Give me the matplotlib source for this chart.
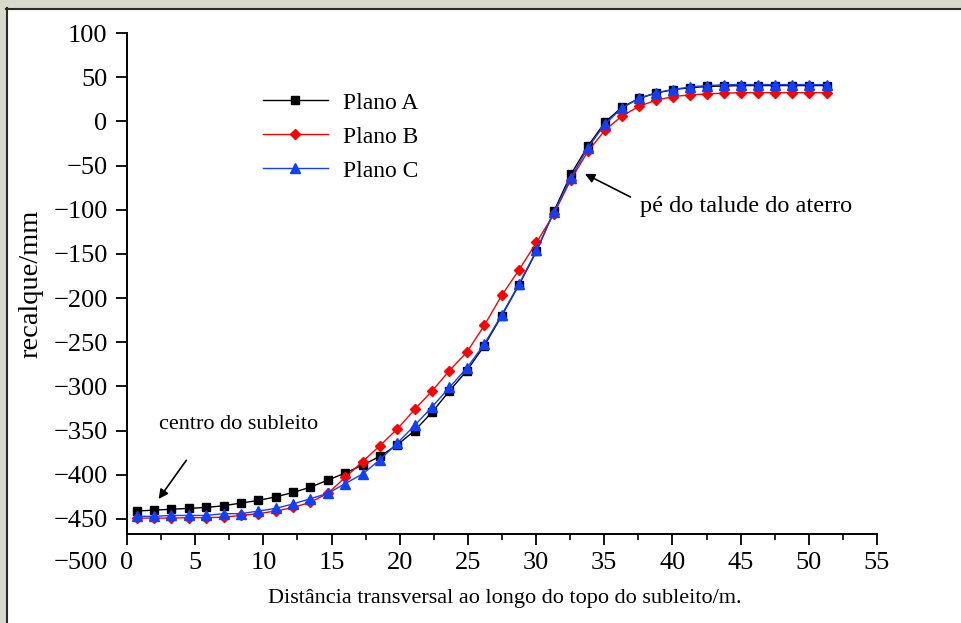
import matplotlib
matplotlib.use("Agg")
import matplotlib.pyplot as plt
from matplotlib.patches import Rectangle
from matplotlib.lines import Line2D

# ---- data ----
x_pos = [0.7, 1.98, 3.25, 4.53, 5.8, 7.08, 8.35, 9.63, 10.9, 12.18, 13.45, 14.73,
         16.0, 17.28, 18.55, 19.83, 21.1, 22.38, 23.65, 24.93, 26.2, 27.48, 28.75,
         30.03, 31.3, 32.55, 33.8, 35.05, 36.3, 37.55, 38.8, 40.05, 41.3, 42.55,
         43.8, 45.05, 46.3, 47.55, 48.8, 50.05, 51.3]
plano_a = [-441, -440, -439, -438, -437, -435, -432, -429, -425, -420, -414, -406,
           -398, -389, -379, -366, -350, -329, -305, -282, -254, -220, -185, -147,
           -102, -60, -28, -1, 16, 26, 32, 36, 38, 39.5, 40, 40.5, 40.5, 40.5,
           40.5, 40.5, 40.5]
plano_b = [-449, -449, -449, -448.5, -448.5, -448, -446, -444, -441, -437, -431, -421,
           -403, -385, -367, -348, -326, -305, -282, -261, -231, -197, -168, -137,
           -105, -66, -34, -10, 6, 17, 24, 28, 30, 31, 32, 32.5, 32.5, 32.5, 32.5,
           32.5, 32.5]
plano_c = [-447, -447, -446, -446, -446, -444, -444, -441, -438, -433, -427, -421,
           -410, -399, -383, -364, -344, -323, -301, -279, -252, -219, -184, -146,
           -103, -64, -30, -3, 15, 26, 32.5, 36, 39, 40.5, 41.5, 41.6, 41.6, 41.6,
           41.6, 41.6, 41.6]
series_labels = ["Plano A", "Plano B", "Plano C"]
x_ticks = [0, 5, 10, 15, 20, 25, 30, 35, 40, 45, 50, 55]
y_ticks = [100, 50, 0, -50, -100, -150, -200, -250, -300, -350, -400, -450]
extra_y_label = -500

plt.rcParams['font.family'] = ['Liberation Serif', 'DejaVu Serif']
plt.rcParams['axes.unicode_minus'] = True

W, H = 962, 623
fig = plt.figure(figsize=(W / 100, H / 100), dpi=100)
fig.patch.set_facecolor('white')

# frame decoration (grey border top/left with dark inner line)
grey = '#d7d9cc'
fig.patches.append(Rectangle((0, 1 - 8 / H), 1, 8 / H, transform=fig.transFigure,
                             facecolor=grey, edgecolor='none', zorder=0))
fig.patches.append(Rectangle((0, 0), 6 / W, 1, transform=fig.transFigure,
                             facecolor=grey, edgecolor='none', zorder=0))
fig.lines.append(Line2D([6 / W, 1], [1 - 8.5 / H, 1 - 8.5 / H], transform=fig.transFigure,
                        color='#2a2a2a', lw=1.5))
fig.lines.append(Line2D([6.5 / W, 6.5 / W], [0, 1 - 8 / H], transform=fig.transFigure,
                        color='#2a2a2a', lw=1.5))

ax = fig.add_axes([127 / W, 1 - 534 / H, 750 / W, (534 - 33) / H])

ax.plot(x_pos, plano_a, color='black', marker='s', ms=5.5, lw=1.0, label=series_labels[0])
ax.plot(x_pos, plano_b, color='#ff0000', marker='D', ms=5, lw=1.0, label=series_labels[1])
ax.plot(x_pos, plano_c, color='#1040ff', marker='^', ms=6.5, lw=1.0, label=series_labels[2])

ax.set_xlim(0, 55)
ax.set_ylim(-467, 100)
ax.set_xticks(x_ticks)
ax.set_xticks([v + 2.5 for v in x_ticks[:-1]], minor=True)
ax.set_yticks(y_ticks)

for s in ['top', 'right']:
    ax.spines[s].set_visible(False)
for s in ['left', 'bottom']:
    ax.spines[s].set_linewidth(1.4)

ax.tick_params(axis='both', which='major', direction='out', length=8, width=1.3,
               labelsize=19, pad=6, colors='black')
ax.tick_params(axis='x', which='major', pad=5)
ax.tick_params(axis='x', which='minor', direction='out', length=4.5, width=1.2)

# -500 label drawn at its data position (below axis end)
ax.annotate('\u2212500', xy=(0, extra_y_label), xycoords=('axes fraction', 'data'),
            xytext=(-14, 0), textcoords='offset points', ha='right', va='center',
            fontsize=19, annotation_clip=False)

ax.set_ylabel('recalque/mm', fontsize=20.5, labelpad=7)
fig.text(505 / W, 1 - 599 / H, 'Distância transversal ao longo do topo do subleito/m.',
         ha='center', va='center', fontsize=16)

leg = ax.legend(loc='upper left', bbox_to_anchor=(0.181, 0.882), frameon=False,
                fontsize=17, handlelength=2.75, handletextpad=0.64, labelspacing=0.53,
                borderpad=0, borderaxespad=0)

# annotations
ax.annotate('', xy=(2.2, -430), xytext=(4.47, -381),
            arrowprops=dict(arrowstyle='-|>', color='black', lw=1.2, mutation_scale=14))
ax.text(8.2, -343, 'centro do subleito', ha='center', va='center', fontsize=16)

ax.annotate('', xy=(33.4, -58), xytext=(37.1, -87),
            arrowprops=dict(arrowstyle='-|>', color='black', lw=1.2, mutation_scale=14))
ax.text(37.6, -96, 'pé do talude do aterro', ha='left', va='center', fontsize=17.5)

fig.savefig('out.png', dpi=100)
